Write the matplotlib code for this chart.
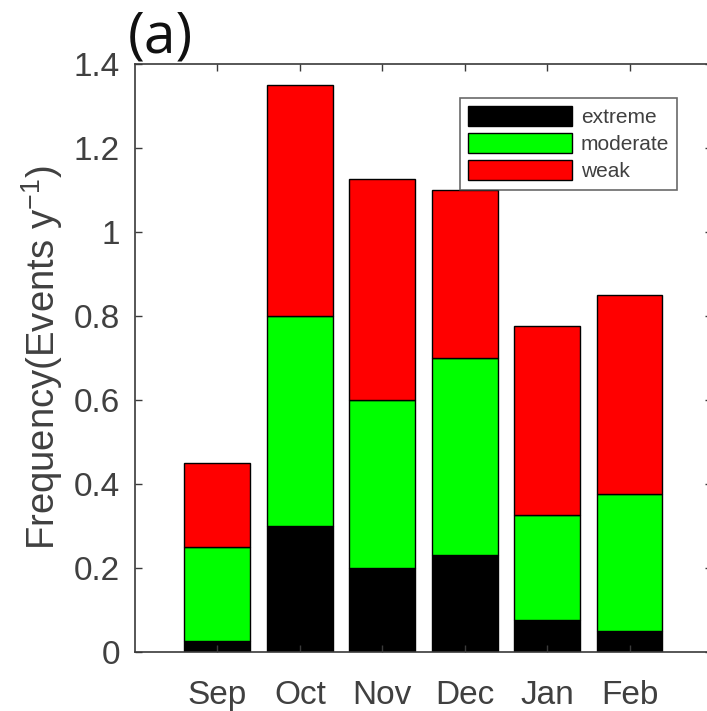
import numpy as np
import matplotlib
matplotlib.use('Agg')
import matplotlib.pyplot as plt

months = ['Sep', 'Oct', 'Nov', 'Dec', 'Jan', 'Feb']
extreme = [0.025, 0.30, 0.20, 0.23, 0.075, 0.05]
moderate = [0.225, 0.50, 0.40, 0.47, 0.25, 0.325]
weak = [0.20, 0.55, 0.525, 0.40, 0.45, 0.475]
yticks = [0, 0.2, 0.4, 0.6, 0.8, 1, 1.2, 1.4]
ytick_labels = ['0', '0.2', '0.4', '0.6', '0.8', '1', '1.2', '1.4']

plt.rcParams['font.family'] = ['Liberation Sans', 'DejaVu Sans']
plt.rcParams['mathtext.fontset'] = 'custom'
plt.rcParams['mathtext.rm'] = 'Liberation Sans'
axcol = '#3a3a3a'

fig = plt.figure(figsize=(7.07, 7.11), dpi=100)
ax = fig.add_axes([0.191, 0.083, 0.816, 0.827])

x = np.arange(1, len(months) + 1)
e = np.array(extreme)
m = np.array(moderate)
w = np.array(weak)
ax.bar(x, e, 0.8, color='#000000', edgecolor='k', linewidth=1, label='extreme')
ax.bar(x, m, 0.8, bottom=e, color='#00ff00', edgecolor='k', linewidth=1, label='moderate')
ax.bar(x, w, 0.8, bottom=e + m, color='#ff0000', edgecolor='k', linewidth=1, label='weak')

ax.set_xlim(0, 7)
ax.set_ylim(0, 1.4)
ax.set_xticks(x)
ax.set_xticklabels(months)
ax.set_yticks(yticks)
ax.set_yticklabels(ytick_labels)
ax.tick_params(direction='in', length=5, width=1, color=axcol, labelcolor='#404040',
               labelsize=24, top=True, right=True)
ax.tick_params(axis='y', pad=11)
ax.tick_params(axis='x', pad=20)
for s in ax.spines.values():
    s.set_color(axcol)
    s.set_linewidth(1.2)

# superscript with a plain hyphen, like the original
ax.set_ylabel('Frequency(Events y$^{\\mathrm{-1}}$)', fontsize=27.5, color='#404040', labelpad=6)

leg = ax.legend(loc='upper left', bbox_to_anchor=(0.563, 0.942), fontsize=15, frameon=True,
                fancybox=False, edgecolor='#444444', handlelength=5.0, handleheight=1.05,
                labelspacing=0.3, handletextpad=0.4, borderpad=0.4, borderaxespad=0)
leg.get_frame().set_linewidth(1.2)
for t in leg.get_texts():
    t.set_color('#404040')

fig.text(0.181, 0.986, '(a)', fontsize=41, family='Open Sans', color='#111111', va='top')

fig.savefig('out.png', dpi=100)
